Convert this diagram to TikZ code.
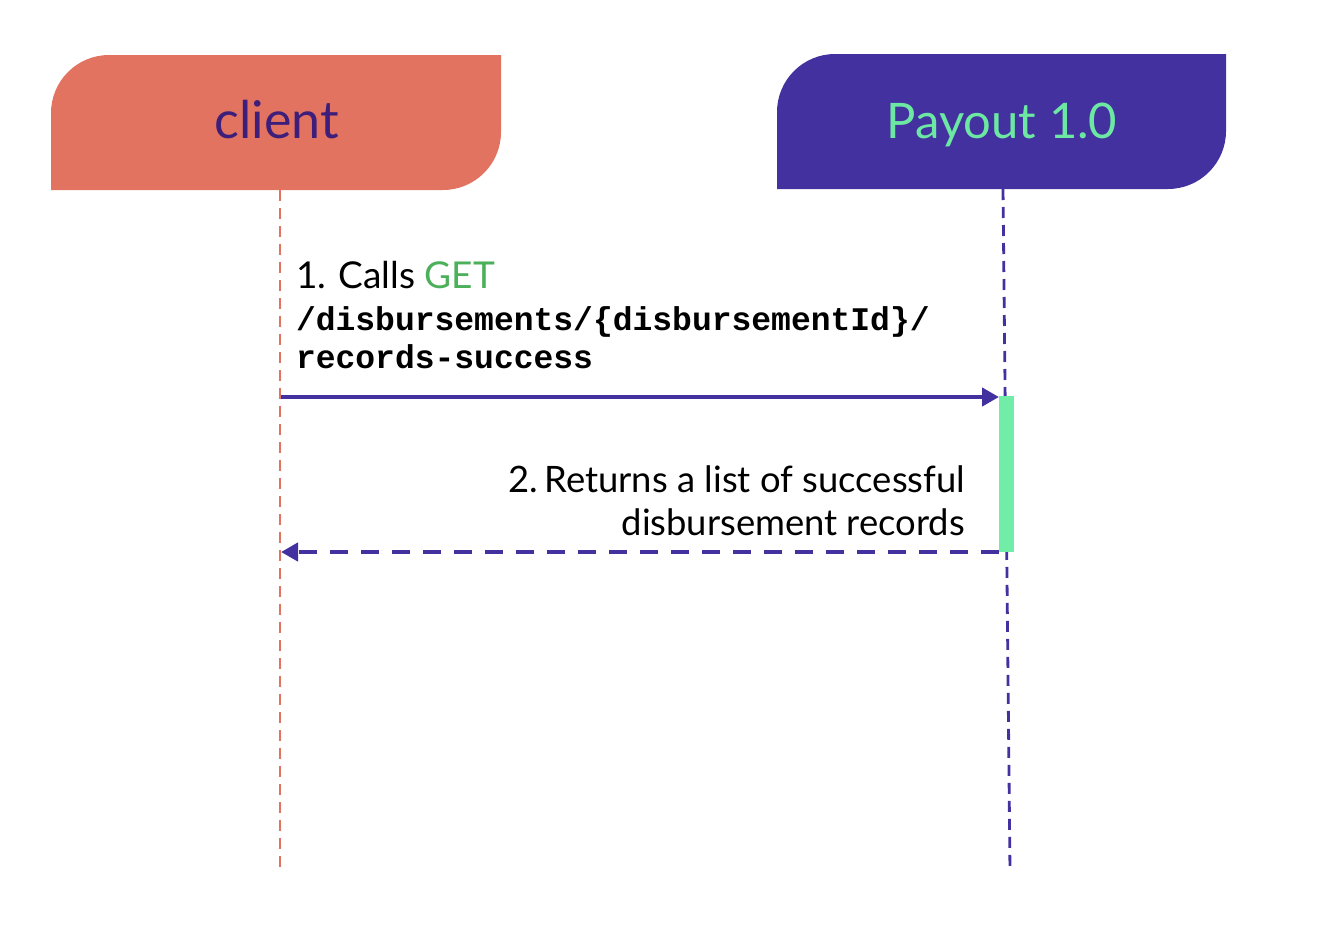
\documentclass[tikz,border=0pt]{standalone}
\usepackage{fontspec}
\setmainfont{Lato}
\newfontfamily\codefont{Liberation Mono}
\usetikzlibrary{arrows.meta}
\definecolor{salmon}{HTML}{E27361}
\definecolor{violet}{HTML}{4331A0}
\definecolor{darkvio}{HTML}{3D1F7B}
\definecolor{mint}{HTML}{6DE8A3}
\definecolor{barmint}{HTML}{72EDA8}
\definecolor{getgreen}{HTML}{4CAF5A}
\begin{document}
\begin{tikzpicture}[x=0.5pt,y=-0.5pt,
  lbl/.style={inner sep=0pt,outer sep=0pt,font=\fontsize{18.5}{22}\selectfont},
  code/.style={inner sep=0pt,outer sep=0pt,font=\codefont\bfseries\fontsize{16.5}{19}\selectfont},
  hdrtext/.style={inner sep=0pt,anchor=base},
  life/.style={line width=1.4pt,dash pattern=on 5.5pt off 3.5pt},
  msg/.style={violet,line width=2.2pt,-{Triangle[length=8.5pt,width=9pt]}},
  reply/.style={msg,dash pattern=on 9pt off 6.5pt}]
\useasboundingbox (0,0) rectangle (1332,948);
% header shapes
\fill[salmon] (51,190) -- (51,113) .. controls (51,81) and (77,55) .. (109,55)
  -- (501,55) -- (501,132) .. controls (501,164) and (475,190) .. (443,190) -- cycle;
\fill[violet] (777,189) -- (777,112) .. controls (777,80) and (803,54) .. (835,54)
  -- (1226,54) -- (1226,131) .. controls (1226,163) and (1200,189) .. (1168,189) -- cycle;
\node[hdrtext,darkvio,font=\fontsize{26}{30}\selectfont] (client) at (277,138) {client};
\node[hdrtext,mint,font=\fontsize{24.5}{30}\selectfont] (payout) at (1002,138) {Payout 1.0};
% lifelines
\coordinate (ctop) at (280,190);
\coordinate (cbot) at (280,872);
\coordinate (ptop) at (1003,189);
\coordinate (pbot) at (1010,872);
\draw[life,salmon] (ctop) -- (cbot);
\draw[life,violet] (ptop) -- (pbot);
% activation bar
\node[fill=barmint,inner sep=0pt,minimum width=7.5pt,minimum height=78pt,anchor=north west] (act) at (999,396) {};
% messages
\coordinate (m1s) at (281,397);
\coordinate (m2e) at (281,552);
\draw[msg] (m1s) -- (act.north west |- m1s);
\draw[reply] (act.south west |- m2e) -- (m2e);
% labels
\node[lbl,anchor=base west] (t1) at (296,288) {1. Calls \textcolor{getgreen}{GET}};
\node[code,anchor=base west] (t2) at (296,330) {/disbursements/\{disbursementId\}/};
\node[code,anchor=base west] (t3) at (296,368) {records-success};
\node[lbl,anchor=base east,font=\fontsize{18.2}{22}\selectfont] (r1) at (965,492) {2.\,Returns a list of successful};
\node[lbl,anchor=base east,font=\fontsize{18.2}{22}\selectfont] (r2) at (965,535) {disbursement records};
\end{tikzpicture}
\end{document}
